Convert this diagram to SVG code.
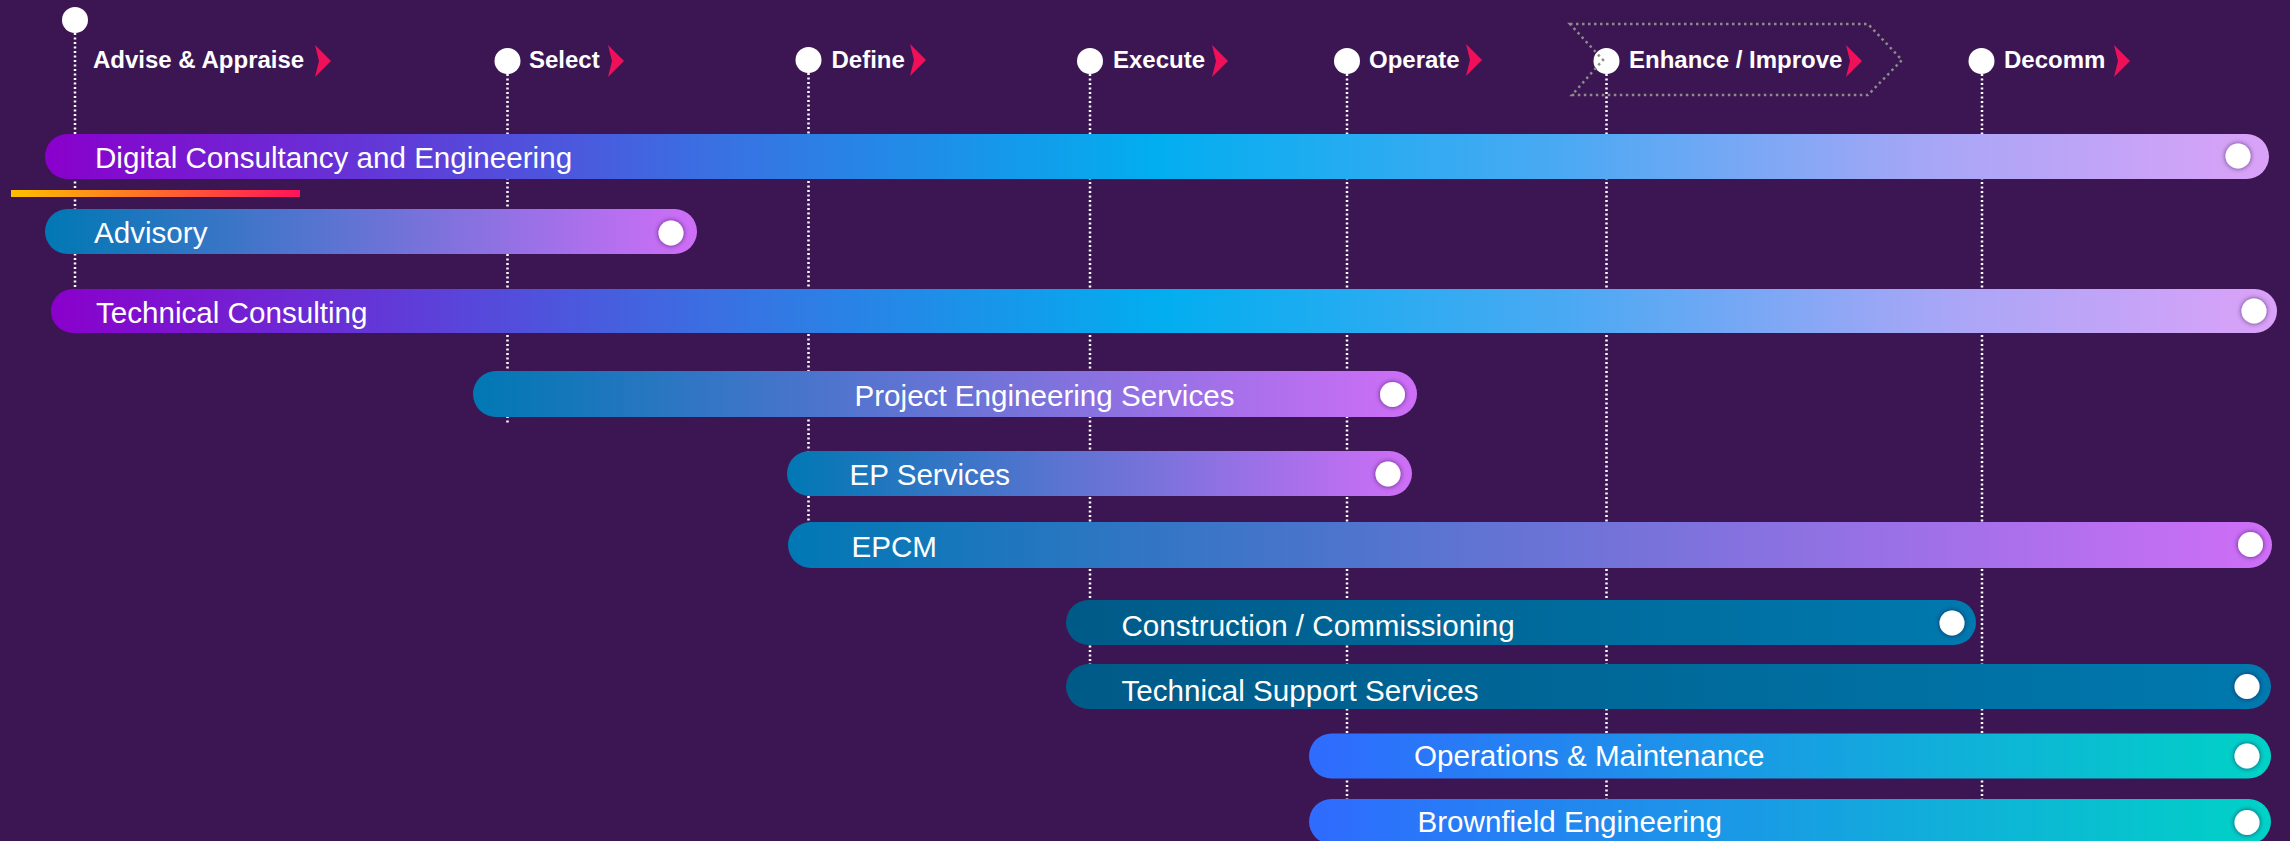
<svg xmlns="http://www.w3.org/2000/svg" width="2290" height="841" viewBox="0 0 2290 841">
<defs>
<style>
.bg{fill:#3C1652}
.ms{fill:#FFFFFF}
.mt{font-family:"Liberation Sans",Arial,sans-serif;font-weight:bold;font-size:24px;fill:#FFFFFF}
.chev{fill:#F0105A}
.bt{font-family:"Liberation Sans",Arial,sans-serif;font-size:29.6px;fill:#FFFFFF}
.dot{fill:#FFFFFF;filter:url(#sh)}
.vl{stroke:#FFFFFF;stroke-width:2.5;stroke-dasharray:2 2.5;fill:none}
.pent{stroke:#8C8C8C;stroke-width:2.5;stroke-dasharray:2.5 3.5;fill:none}
</style>
<filter id="sh" x="-50%" y="-50%" width="200%" height="200%">
<feDropShadow dx="0" dy="0" stdDeviation="2.5" flood-color="#2A0A40" flood-opacity="0.7"/>
</filter>
<linearGradient id="gRainbow" x1="0" y1="0" x2="1" y2="0">
<stop offset="0" stop-color="#8A00CC"/>
<stop offset="0.3" stop-color="#3A70E2"/>
<stop offset="0.5" stop-color="#02AEEF"/>
<stop offset="0.68" stop-color="#4AA9F3"/>
<stop offset="0.85" stop-color="#A8A6F6"/>
<stop offset="1" stop-color="#DAA2F8"/>
</linearGradient>
<linearGradient id="gViolet" x1="0" y1="0" x2="1" y2="0">
<stop offset="0" stop-color="#0078B4"/>
<stop offset="1" stop-color="#CF6EF7"/>
</linearGradient>
<linearGradient id="gTeal" x1="0" y1="0" x2="1" y2="0">
<stop offset="0" stop-color="#005A88"/>
<stop offset="1" stop-color="#0079AE"/>
</linearGradient>
<linearGradient id="gCyan" x1="0" y1="0" x2="1" y2="0">
<stop offset="0" stop-color="#2F6BFF"/>
<stop offset="1" stop-color="#00D2C6"/>
</linearGradient>
<linearGradient id="gFlame" x1="0" y1="0" x2="1" y2="0">
<stop offset="0" stop-color="#FFC000"/>
<stop offset="1" stop-color="#FF1458"/>
</linearGradient>
<path id="chevShape" d="M0,0 L16,16 L0,32 L4,16 Z"/>
</defs>
<rect class="bg" x="0" y="0" width="2290" height="841"/>

<g id="connectors">
<line class="vl" x1="75" y1="33" x2="75" y2="310"/>
<line class="vl" x1="507.5" y1="74" x2="507.5" y2="423"/>
<line class="vl" x1="808.5" y1="73" x2="808.5" y2="540"/>
<line class="vl" x1="1090" y1="74" x2="1090" y2="680"/>
<line class="vl" x1="1347" y1="74" x2="1347" y2="830"/>
<line class="vl" x1="1606.5" y1="74" x2="1606.5" y2="830"/>
<line class="vl" x1="1982" y1="74" x2="1982" y2="830"/>
</g>

<g id="milestone-advise">
<circle class="ms" cx="75" cy="20" r="13"/>
<text class="mt" x="93" y="68">Advise &amp; Appraise</text>
<use href="#chevShape" class="chev" x="315" y="45"/>
</g>
<g id="milestone-select">
<circle class="ms" cx="507.5" cy="61" r="13"/>
<text class="mt" x="529" y="68">Select</text>
<use href="#chevShape" class="chev" x="608" y="45"/>
</g>
<g id="milestone-define">
<circle class="ms" cx="808.5" cy="60" r="13"/>
<text class="mt" x="831.5" y="68">Define</text>
<use href="#chevShape" class="chev" x="910" y="44"/>
</g>
<g id="milestone-execute">
<circle class="ms" cx="1090" cy="61" r="13"/>
<text class="mt" x="1113" y="68">Execute</text>
<use href="#chevShape" class="chev" x="1212" y="45"/>
</g>
<g id="milestone-operate">
<circle class="ms" cx="1347" cy="61" r="13"/>
<text class="mt" x="1369" y="68">Operate</text>
<use href="#chevShape" class="chev" x="1466" y="44"/>
</g>
<g id="milestone-enhance">
<circle class="ms" cx="1606.5" cy="61" r="13"/>
<text class="mt" x="1629" y="68">Enhance / Improve</text>
<use href="#chevShape" class="chev" x="1846" y="45"/>
<path class="pent" d="M1570,24 L1868,24 L1902,60 L1868,95 L1572,95 L1603,60 Z"/>
</g>
<g id="milestone-decomm">
<circle class="ms" cx="1981.5" cy="61" r="13"/>
<text class="mt" x="2004" y="68">Decomm</text>
<use href="#chevShape" class="chev" x="2114" y="45"/>
</g>

<g id="bar-digital">
<rect x="45" y="134" width="2224" height="45" rx="22.5" fill="url(#gRainbow)"/>
<text class="bt" x="95" y="168">Digital Consultancy and Engineering</text>
<circle class="dot" cx="2238" cy="156" r="12.5"/>
</g>
<g id="accent-line">
<rect x="11" y="190" width="289" height="7" fill="url(#gFlame)"/>
</g>
<g id="bar-advisory">
<rect x="45" y="209" width="652" height="45" rx="22.5" fill="url(#gViolet)"/>
<text class="bt" x="94" y="243">Advisory</text>
<circle class="dot" cx="671" cy="233" r="12.5"/>
</g>
<g id="bar-technical-consulting">
<rect x="51" y="289" width="2226" height="44" rx="22" fill="url(#gRainbow)"/>
<text class="bt" x="96" y="323">Technical Consulting</text>
<circle class="dot" cx="2254" cy="311" r="12.5"/>
</g>
<g id="bar-project-engineering">
<rect x="473" y="371" width="944" height="46" rx="23" fill="url(#gViolet)"/>
<text class="bt" x="854.5" y="406">Project Engineering Services</text>
<circle class="dot" cx="1392.5" cy="394.5" r="12.5"/>
</g>
<g id="bar-ep-services">
<rect x="787" y="451" width="625" height="45" rx="22.5" fill="url(#gViolet)"/>
<text class="bt" x="849.5" y="485">EP Services</text>
<circle class="dot" cx="1388" cy="474" r="12.5"/>
</g>
<g id="bar-epcm">
<rect x="788" y="522" width="1484" height="46" rx="23" fill="url(#gViolet)"/>
<text class="bt" x="851.5" y="557">EPCM</text>
<circle class="dot" cx="2250.5" cy="544.5" r="12.5"/>
</g>
<g id="bar-construction">
<rect x="1066" y="600" width="910" height="45" rx="22.5" fill="url(#gTeal)"/>
<text class="bt" x="1121.5" y="636">Construction / Commissioning</text>
<circle class="dot" cx="1952" cy="623" r="12.5"/>
</g>
<g id="bar-technical-support">
<rect x="1066" y="664" width="1205" height="45" rx="22.5" fill="url(#gTeal)"/>
<text class="bt" x="1121.5" y="701">Technical Support Services</text>
<circle class="dot" cx="2247" cy="686.5" r="12.5"/>
</g>
<g id="bar-operations">
<rect x="1309" y="733.5" width="962" height="45" rx="22.5" fill="url(#gCyan)"/>
<text class="bt" x="1414" y="766">Operations &amp; Maintenance</text>
<circle class="dot" cx="2247" cy="756" r="12.5"/>
</g>
<g id="bar-brownfield">
<rect x="1309" y="799" width="962" height="45" rx="22.5" fill="url(#gCyan)"/>
<text class="bt" x="1417.5" y="832">Brownfield Engineering</text>
<circle class="dot" cx="2247" cy="822.5" r="12.5"/>
</g>
</svg>
